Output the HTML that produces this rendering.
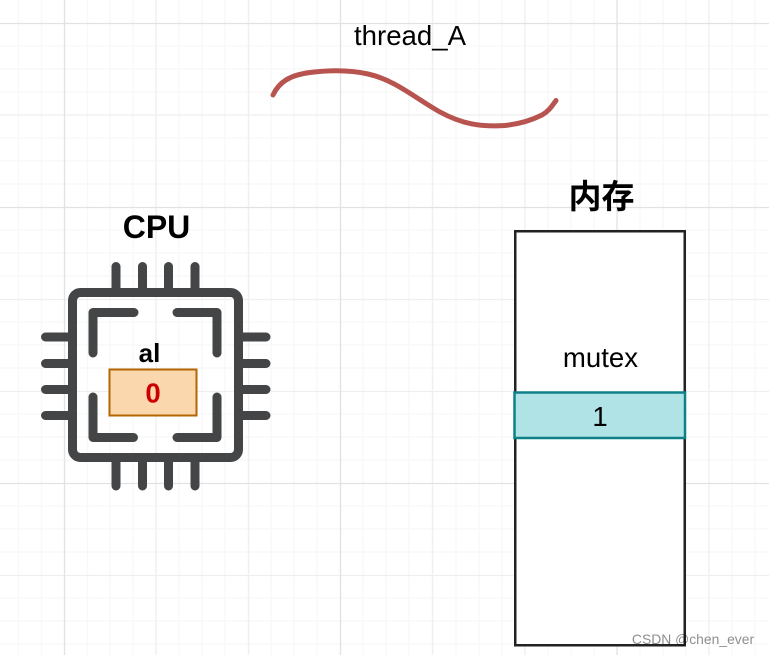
<!DOCTYPE html>
<html>
<head>
<meta charset="utf-8">
<style>
html,body{margin:0;padding:0;background:#fff;width:769px;height:655px;overflow:hidden}
svg{display:block;position:absolute;left:0;top:0}
text{font-family:"Liberation Sans","Noto Sans CJK SC",sans-serif;text-anchor:middle}
</style>
</head>
<body>
<svg width="769" height="655" viewBox="0 0 769 655" xmlns="http://www.w3.org/2000/svg">
<rect width="769" height="655" fill="#fff"/>
<g stroke="#f8f8f8" stroke-width="1.300" fill="none">
<path d="M18.500 0V655M41.500 0V655M87.500 0V655M110 0V655M133 0V655M179 0V655M202 0V655M225 0V655M271 0V655M294 0V655M317 0V655M363 0V655M386 0V655M409 0V655M456 0V655M479 0V655M502 0V655M548 0V655M571 0V655M594 0V655M640 0V655M663 0V655M686 0V655M732 0V655M755 0V655"/>
<path d="M0 46H769M0 69H769M0 92H769M0 138H769M0 161H769M0 184H769M0 230H769M0 253H769M0 276H769M0 322H769M0 345H769M0 368H769M0 414H769M0 437H769M0 460H769M0 506H769M0 529H769M0 552H769M0 598H769M0 621H769M0 644H769"/>
</g>
<g stroke="#efefef" stroke-width="1.300" fill="none">
<path d="M156 0V655M248.500 0V655M432.500 0V655M525 0V655M709 0V655"/>
<path d="M0 115H769M0 299.500H769M0 391.500H769M0 575.500H769"/>
</g>
<g stroke="#e2e2e2" stroke-width="1.300" fill="none">
<path d="M64.500 0V655M340.500 0V655M617 0V655"/>
<path d="M0 23.500H769M0 207.500H769M0 483.500H769"/>
</g>

<text x="410" y="45" font-size="27.600" fill="#000">thread_A</text>
<path d="M273 95C279 82 290 75 310 72.500C330 70 350 70 368 74C395 80 415 98 440 112C462 124 480 127 505 125.500C520 124 532 120 542 115C549 111 552 106 556 100.500" fill="none" stroke="#b85450" stroke-width="5" stroke-linecap="round"/>

<text x="156.500" y="238" font-size="32" font-weight="bold" fill="#000">CPU</text>
<g fill="none" stroke="#444547" stroke-width="9" stroke-linecap="round" stroke-linejoin="round">
<path d="M116 266.500V292M142.500 266.500V292M168.500 266.500V292M195 266.500V292"/>
<path d="M116 458V486M142.500 458V486M168.500 458V486M195 458V486"/>
<path d="M45.500 337H72M45.500 363.500H72M45.500 389.500H72M45.500 415.500H72"/>
<path d="M239 337H266M239 363.500H266M239 389.500H266M239 415.500H266"/>
<rect x="72.500" y="292.500" width="166" height="165" rx="8" ry="8"/>
<path d="M134 312.500H93V353"/>
<path d="M177 312.500H217V353"/>
<path d="M93 397V437.500H133.500"/>
<path d="M217 397V437.500H177"/>
</g>
<text x="149.500" y="362" font-size="26" font-weight="bold" fill="#000">al</text>
<rect x="109.500" y="369.500" width="87" height="46" fill="#fad7ac" stroke="#b46504" stroke-width="2"/>
<text x="153" y="402.500" font-size="27.600" font-weight="bold" fill="#cc0000">0</text>

<text x="601.500" y="208" font-size="33" font-weight="bold" fill="#000">内存</text>
<rect x="515.250" y="231.250" width="169.500" height="414" fill="#fff" stroke="#222" stroke-width="2.500"/>
<text x="600.500" y="367" font-size="27.600" fill="#000">mutex</text>
<rect x="514.500" y="392.500" width="170.500" height="45.500" fill="#b0e3e6" stroke="#0e8088" stroke-width="2.500"/>
<text x="600" y="426" font-size="27.600" fill="#000">1</text>

<text x="693" y="644" font-size="13.900" fill="#000" fill-opacity="0.45">CSDN @chen_ever</text>
</svg>
</body>
</html>
